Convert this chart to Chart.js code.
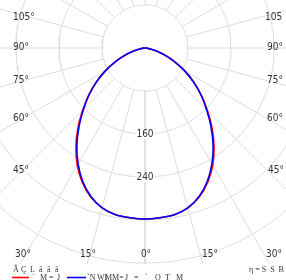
<!DOCTYPE html>
<html>
<head>
<meta charset="utf-8">
<script src="https://cdn.jsdelivr.net/npm/chart.js@4/dist/chart.umd.min.js"></script>
<style>
  body { margin: 0; background: #fff; }
  canvas { display: block; }
</style>
</head>
<body>
<canvas id="myChart" width="286" height="280"></canvas>
<script>
// gamma angles (deg from nadir) and intensities
const angles = [0, 5, 10, 15, 20, 25, 30, 35, 40, 45, 50, 55, 60, 65, 70, 75, 80, 85, 90];
const planeC0 = [318, 317, 315, 308, 295, 276, 252, 224, 194, 164, 137, 111, 86, 62, 41, 23, 10, 3, 0];
const planeC90 = [318, 317, 315, 308, 294, 274, 249, 221, 191, 162, 136, 110, 85, 61, 40, 22, 10, 3, 0];
const ringValues = [80, 160, 240, 320, 400];
const ringLabels = [160, 240];
const spokeAngles = [0, 15, 30, 45, 60, 75, 90, 105, 120, 135, 150, 165, 180, 195, 210, 225, 240, 255, 270, 285, 300, 315, 330, 345];

// layout of the plot
const W = 286, areaH = 264;
const cx = 145, cy = 48, pxPerUnit = 0.5375;
const rad = Math.PI / 180;

function toXY(r, deg) {
    return { x: r * Math.sin(deg * rad), y: -r * Math.cos(deg * rad) };
}

function curve(values) {
    let pts = [];
    for (let i = angles.length - 1; i >= 0; i--) pts.push(toXY(values[i], -angles[i]));
    for (let i = 1; i < angles.length; i++) pts.push(toXY(values[i], angles[i]));
    return pts;
}

let datasets = [];
datasets.push({ data: curve(planeC90), borderColor: '#0000ff', borderWidth: 1.6, tension: 0.3, order: 0 });
datasets.push({ data: curve(planeC0), borderColor: '#ff0000', borderWidth: 1.6, tension: 0.3, order: 1 });

for (let v of ringValues) {
    let pts = [];
    for (let a = 0; a <= 360; a += 2) pts.push(toXY(v, a));
    datasets.push({ data: pts, borderColor: '#dddddd', borderWidth: 1, order: 5 });
}
for (let a of spokeAngles) {
    datasets.push({ data: [toXY(ringValues[0], a), toXY(1000, a)], borderColor: '#dddddd', borderWidth: 1, order: 5 });
}

const angleText = [
    ['105°', 13, 17, 'left'], ['90°', 13, 47, 'left'], ['75°', 13, 80, 'left'],
    ['60°', 13, 118, 'left'], ['45°', 13, 170, 'left'],
    ['105', 265, 17, 'left'], ['90°', 267, 47, 'left'], ['75°', 267, 80, 'left'],
    ['60°', 267, 118, 'left'], ['45°', 268, 170, 'left'],
    ['30°', 15, 254, 'left'], ['15°', 80, 254, 'left'], ['0°', 146, 254, 'center'],
    ['15°', 202, 254, 'left'], ['30°', 266, 254, 'left']
];

const legendText = [
    ['Â', 13, 270], ['Ç', 21, 270], ['L', 30, 270], ['ā', 39, 270], ['ā', 47, 270], ['ā', 55, 270],
    ['˙', 32, 278], ['M', 40, 278], ['=', 49, 278], ['J', 57, 278],
    ['`N', 87, 278], ['WI', 97, 278], ['MM=', 105, 278], ['J', 125, 278], ['=', 134, 278],
    ['`', 145, 278], ['O', 155, 278], ['T', 165, 278], ['M', 176, 278],
    ['η = S  S  B', 249, 270]
];

const textPlugin = {
    id: 'texts',
    afterDatasetsDraw(chart) {
        const c = chart.ctx;
        const xs = chart.scales.x, ys = chart.scales.y;
        c.save();
        c.font = '10px "Liberation Sans Narrow", "DejaVu Sans Condensed", sans-serif';
        c.textBaseline = 'middle';
        c.fillStyle = '#333';
        c.textAlign = 'center';
        for (let v of ringLabels) {
            let px = xs.getPixelForValue(0), py = ys.getPixelForValue(-v);
            let w = c.measureText(String(v)).width;
            c.fillStyle = '#fff';
            c.fillRect(px - w / 2 - 1, py - 5, w + 2, 10);
            c.fillStyle = '#333';
            c.fillText(String(v), px, py);
        }
        for (let t of angleText) {
            c.textAlign = t[3];
            c.fillText(t[0], t[1], t[2]);
        }
        c.font = '8px "Liberation Serif", "DejaVu Serif", serif';
        c.textAlign = 'left';
        for (let t of legendText) c.fillText(t[0], t[1], t[2]);
        c.lineWidth = 1.6;
        c.strokeStyle = '#ff0000';
        c.beginPath(); c.moveTo(12, 277.5); c.lineTo(29, 277.5); c.stroke();
        c.strokeStyle = '#0000ff';
        c.beginPath(); c.moveTo(67, 277.5); c.lineTo(86, 277.5); c.stroke();
        c.restore();
    }
};

new Chart(document.getElementById('myChart'), {
    type: 'scatter',
    data: { datasets: datasets },
    options: {
        responsive: false,
        animation: false,
        devicePixelRatio: 1,
        showLine: true,
        layout: { padding: { left: 0, right: 0, top: 0, bottom: 280 - areaH } },
        elements: { point: { radius: 0, hoverRadius: 0 } },
        plugins: { legend: { display: false }, tooltip: { enabled: false } },
        scales: {
            x: { type: 'linear', display: false, min: -cx / pxPerUnit, max: (W - cx) / pxPerUnit },
            y: { type: 'linear', display: false, min: -(areaH - cy) / pxPerUnit, max: cy / pxPerUnit }
        }
    },
    plugins: [textPlugin]
});
</script>
</body>
</html>
